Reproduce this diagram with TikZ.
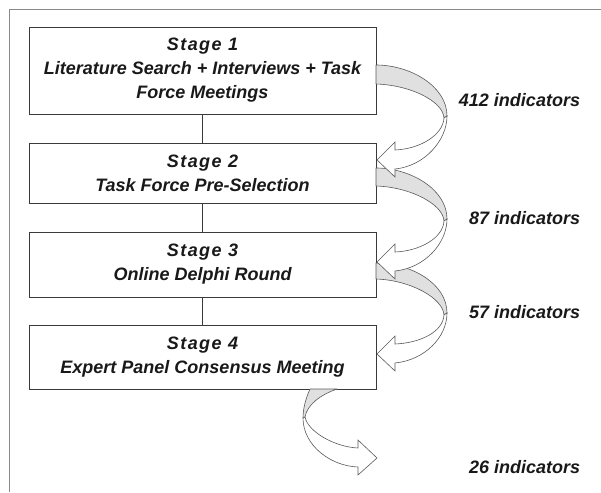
\documentclass[tikz,border=0pt]{standalone}
\usepackage{fontspec}
\setmainfont{Liberation Sans}

\definecolor{framegray}{HTML}{8A8A8A}
\definecolor{boxgray}{HTML}{3A3A3A}
\definecolor{ribbongray}{HTML}{5A5A5A}
\definecolor{shade}{HTML}{E0E0E0}

\begin{document}
\begin{tikzpicture}[x=1pt,y=-1pt]

%\stagehead{number}
\newcommand*{\stagehead}[1]{{\addfontfeature{LetterSpace=8}Stage #1}}

%\backband{top}{bottom}{turn}
\newcommand*{\backband}[3]{%
	\filldraw [back] (\rim,#1) .. controls (410,#1) and (\swing,#3-30) .. (\swing,#3)
		-- (\swing-3,#3+2) .. controls (\swing-4,#3-15) and (410,#2+1) .. (\rim,#2) -- cycle;
}

%\frontarrow{turn}{tip}
\newcommand*{\frontarrow}[2]{%
	\filldraw [front] (\swing,#1) .. controls (\swing,#1+24) and (425,#2+6) .. (395,#2+9)
		-- (395,#2+17) -- (\rim+1,#2) -- (395,#2-18) -- (395,#2-10)
		.. controls (420,#2-11) and (\swing-4,#1+19) .. (\swing-3,#1+2) -- cycle;
}

\tikzset{%
	stagebox/.style={draw=boxgray,line width=0.9pt,minimum width=347pt,inner sep=0pt,align=center,
		font=\bfseries\itshape\fontsize{18}{24}\selectfont,text=black!90},
	link/.style={draw=boxgray,line width=0.9pt},
	back/.style={draw=ribbongray,fill=shade,line width=0.6pt,line join=round},
	front/.style={draw=ribbongray,fill=white,line width=0.6pt,line join=miter},
	count/.style={font=\bfseries\itshape\fontsize{18}{22}\selectfont,text=black!90,inner sep=0pt},
}

\def\rim{376}
\def\swing{447}

\useasboundingbox (0,0) rectangle (601,492);

% frame (only top and left show)
\draw [framegray, line width=1.5pt] (601,9.5) -- (9.5,9.5) -- (9.5,492);

% stages
\node [stagebox, minimum height=87pt] (s1) at (202.5,70.5)
	{\stagehead{1}\\Literature Search + Interviews + Task\\Force Meetings};
\node [stagebox, minimum height=60pt] (s2) at (202.5,173)
	{\stagehead{2}\\Task Force Pre-Selection};
\node [stagebox, minimum height=65pt] (s3) at (202.5,264.5)
	{\stagehead{3}\\Online Delphi Round};
\node [stagebox, minimum height=64pt] (s4) at (202.5,357)
	{\stagehead{4}\\Expert Panel Consensus Meeting};

\draw [link] (s1) -- (s2);
\draw [link] (s2) -- (s3);
\draw [link] (s3) -- (s4);

% curved arrows, back side first
\backband{65}{84}{116}
\backband{168}{186}{219}
\backband{263}{279}{313}
\filldraw [back] (310,389) .. controls (305,400) and (303,410) .. (303,418)
	-- (305,417) .. controls (307,405) and (320,395) .. (337,389) -- cycle;

\frontarrow{116}{160}
\frontarrow{219}{262}
\frontarrow{313}{354}
\filldraw [front] (303,418) .. controls (303,445) and (330,466) .. (358,467)
	-- (358,475) -- (377,458) -- (358,440) -- (358,448)
	.. controls (335,447) and (308,432) .. (305,417) -- cycle;

% counts
\node [count] (n1) at (519.5,100) {412 indicators};
\node [count, anchor=west] (n2) at (469,218) {87 indicators};
\node [count, anchor=west] (n3) at (469,312) {57 indicators};
\node [count, anchor=west] (n4) at (469,467) {26 indicators};

\end{tikzpicture}
\end{document}
